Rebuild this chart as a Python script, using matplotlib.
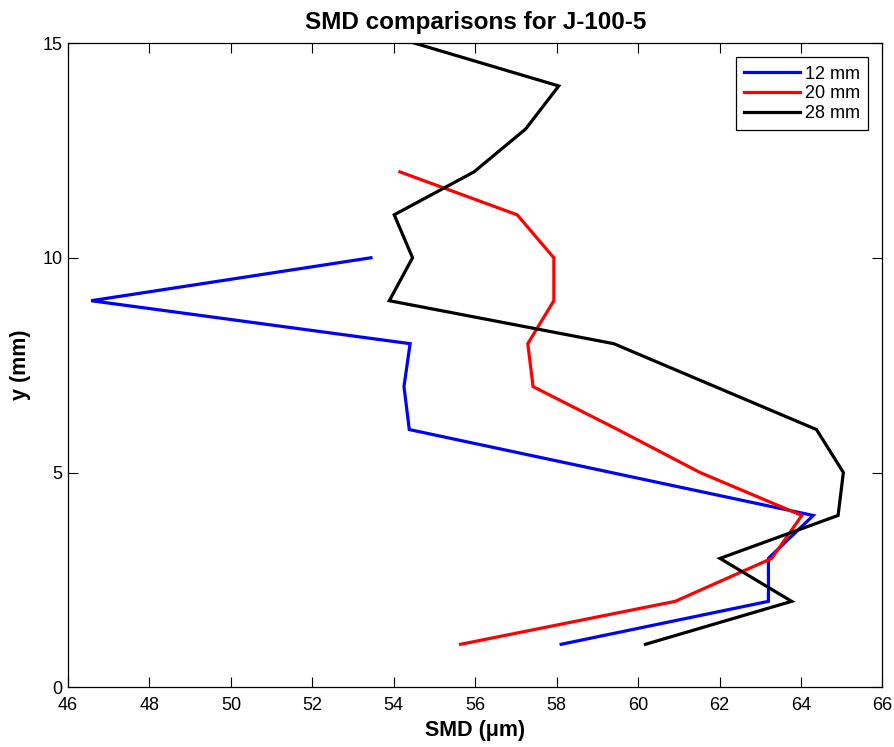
import matplotlib
matplotlib.use("Agg")
import matplotlib.pyplot as plt

plt.rcParams['font.family'] = ['Liberation Sans', 'DejaVu Sans']

# SMD profiles (x: SMD in um, y: height in mm) for three axial stations
y_12 = [10, 9, 8, 7, 6, 4, 3, 2, 1]
smd_12 = [53.44, 46.57, 54.40, 54.25, 54.38, 64.30, 63.20, 63.20, 58.11]

y_20 = [12, 11, 10, 9, 8, 7, 6, 5, 4, 3, 2, 1]
smd_20 = [54.15, 57.03, 57.93, 57.93, 57.29, 57.42, 59.5, 61.52, 64.02, 63.28, 60.91, 55.64]

y_28 = [15, 14, 13, 12, 11, 10, 9, 8, 6, 5, 4, 3, 2, 1]
smd_28 = [54.50, 58.05, 57.24, 55.97, 54.01, 54.46, 53.89, 59.40, 64.38, 65.04, 64.91, 62.01, 63.77, 60.18]

labels = ['12 mm', '20 mm', '28 mm']
colors = ['#0000ff', '#ff0000', '#000000']

x_ticks = list(range(46, 67, 2))
y_ticks = [0, 5, 10, 15]

fig = plt.figure(figsize=(8.95, 7.47), dpi=100)
ax = fig.add_axes([0.0760, 0.0800, 0.9100, 0.8624])

for xs, ys, lab, c in zip([smd_12, smd_20, smd_28], [y_12, y_20, y_28], labels, colors):
    ax.plot(xs, ys, color=c, lw=2.3, label=lab, solid_joinstyle='miter')

ax.set_xlim(46, 66)
ax.set_ylim(0, 15)
ax.set_xticks(x_ticks)
ax.set_yticks(y_ticks)
ax.tick_params(direction='in', length=7, width=0.8, top=True, right=True,
               labelsize=13)
ax.tick_params(axis='x', pad=7)
ax.tick_params(axis='y', pad=4)
for s in ax.spines.values():
    s.set_linewidth(0.9)

ax.set_title('SMD comparisons for J-100-5', fontsize=17.5, fontweight='bold', pad=10)
ax.set_xlabel('SMD (\u03bcm)', fontsize=15.5, fontweight='bold', labelpad=4)
ax.set_ylabel('y (mm)', fontsize=15.5, fontweight='bold', labelpad=8)

leg = ax.legend(loc='upper right', fontsize=13, handlelength=3.1, handletextpad=0.28,
                labelspacing=0.15, borderpad=0.45, borderaxespad=0.8, fancybox=False,
                framealpha=1)
leg.get_frame().set_edgecolor('black')
leg.get_frame().set_linewidth(0.9)

fig.savefig('out.png', dpi=100)
